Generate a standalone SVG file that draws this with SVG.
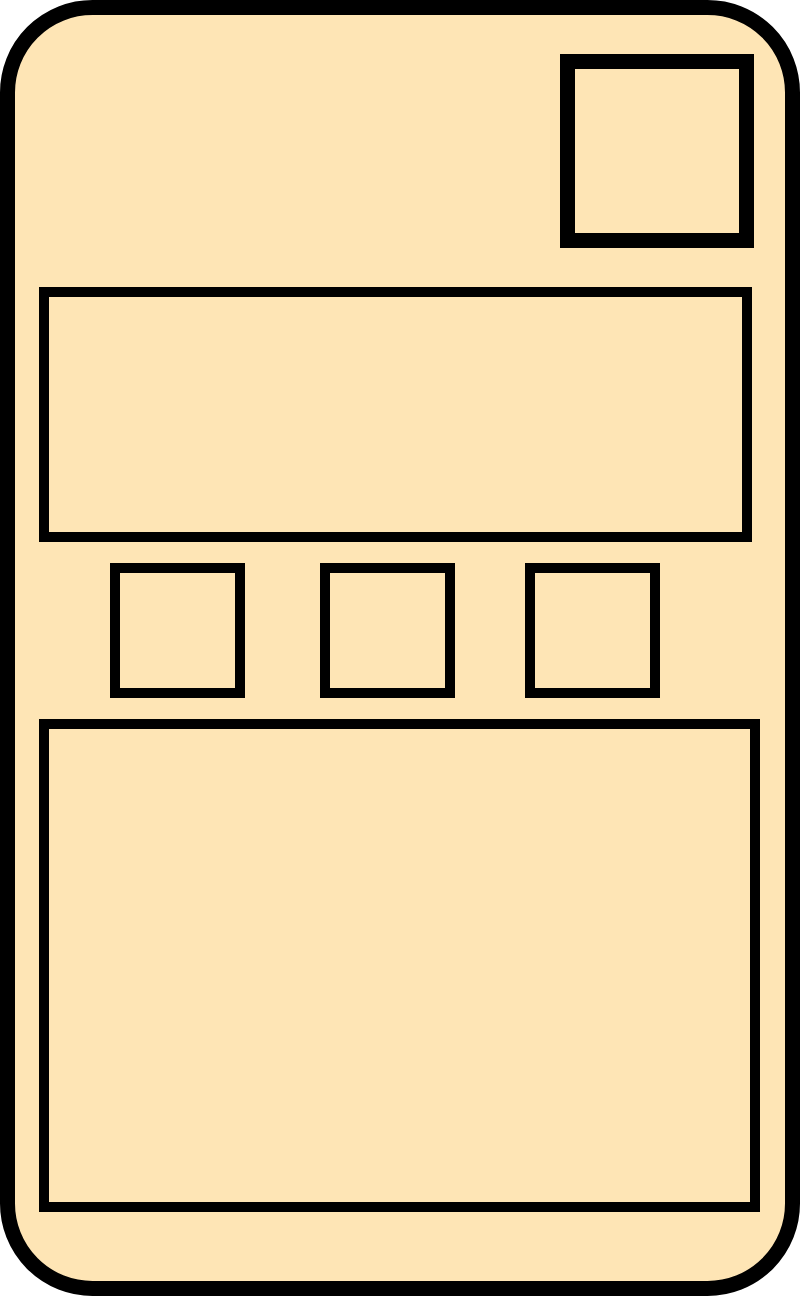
<svg xmlns="http://www.w3.org/2000/svg" width="800" height="1296" viewBox="0 0 800 1296">
<style>
.frame{fill:#FEE5B5;stroke:#000;stroke-width:15}
.box{fill:#FEE5B5;stroke:#000;stroke-width:10}
.thick{fill:#FEE5B5;stroke:#000;stroke-width:15}
</style>
<g id="phone"><rect class="frame" x="7.5" y="7.5" width="785" height="1281" rx="85" ry="85"/></g>
<g id="icon"><rect class="thick" x="567.5" y="61.5" width="179" height="179"/></g>
<g id="banner"><rect class="box" x="44" y="292" width="703" height="245"/></g>
<g id="btn1"><rect class="box" x="115" y="568" width="125" height="125"/></g>
<g id="btn2"><rect class="box" x="325" y="568" width="125" height="125"/></g>
<g id="btn3"><rect class="box" x="530" y="568" width="125" height="125"/></g>
<g id="content"><rect class="box" x="44" y="724" width="711" height="483"/></g>
<g id="connectors"></g>
</svg>
